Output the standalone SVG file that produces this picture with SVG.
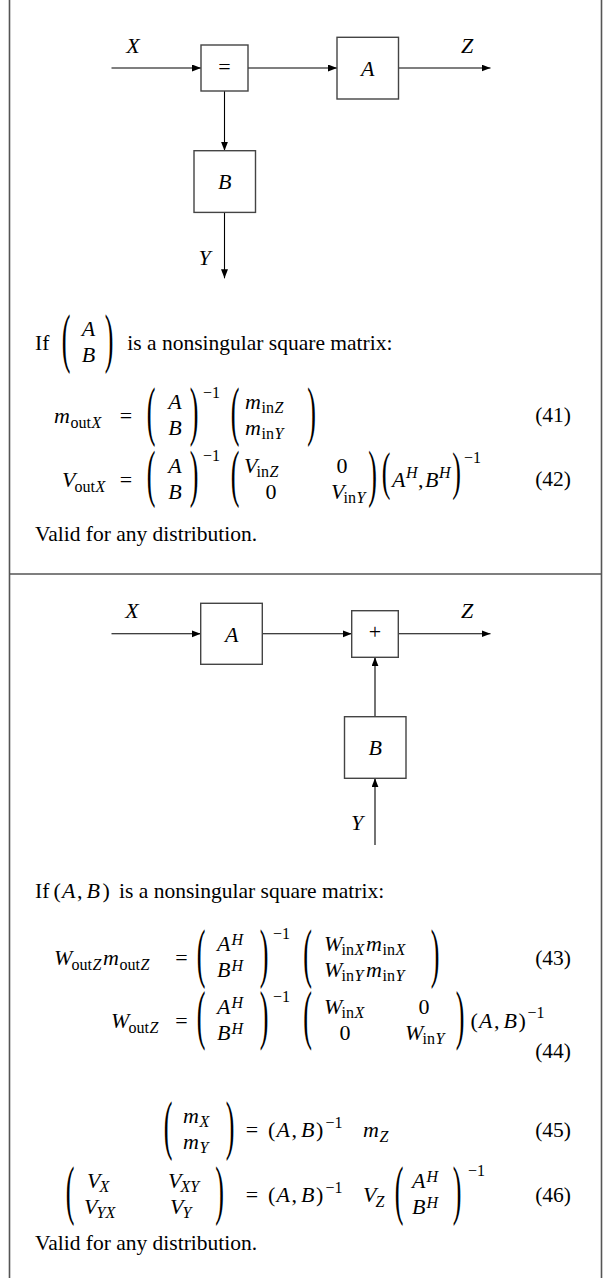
<svg xmlns="http://www.w3.org/2000/svg" width="607" height="1278" viewBox="0 0 607 1278">
<defs>
<style>
.f{font-family:"Liberation Serif","Times New Roman",serif;fill:#000}
.t{font-size:21.5px}
.r{font-size:22px;font-style:normal}
.i{font-size:22px;font-style:italic}
.si{font-size:16px;font-style:italic}
.sr{font-size:16px;font-style:normal}
.bp{font-size:26px;text-anchor:middle;font-style:normal}
.m{text-anchor:middle}
.e{text-anchor:end}
.box{fill:#fff;stroke:#444;stroke-width:1.4}
.wire{fill:none;stroke:#000;stroke-width:1.1}
.frame{fill:none;stroke:#555;stroke-width:1.6}
</style>
<marker id="ah" markerUnits="userSpaceOnUse" markerWidth="10" markerHeight="8" refX="9" refY="3.5" orient="auto"><path d="M0,0 L9,3.5 L0,7 z" fill="#000"/></marker>
</defs>
<rect width="607" height="1278" fill="#fff"/>
<g id="frame"><path class="frame" d="M9.5,0 V1278 M601.5,0 V1278 M9.5,574 H601.5"/></g>

<!-- Panel 1 diagram -->
<g id="connectors-1">
<path class="wire" marker-end="url(#ah)" d="M111.5,68 H201"/>
<path class="wire" marker-end="url(#ah)" d="M248,68 H337"/>
<path class="wire" marker-end="url(#ah)" d="M398.5,68 H490.5"/>
<path class="wire" marker-end="url(#ah)" d="M224.5,91 V150.7"/>
<path class="wire" marker-end="url(#ah)" d="M224.5,212.3 V278.3"/>
<text class="f i m" x="133" y="53">X</text>
<text class="f i m" x="467" y="53">Z</text>
<text class="f i m" x="204.5" y="265">Y</text>
</g>
<g id="node-equal"><rect class="box" x="201" y="45" width="47" height="46"/><text class="f r m" x="224.5" y="74.3">=</text></g>
<g id="node-A1"><rect class="box" x="337" y="37.3" width="61.5" height="61.7"/><text class="f i m" x="367.7" y="76">A</text></g>
<g id="node-B1"><rect class="box" x="194" y="150.7" width="61.5" height="61.7"/><text class="f i m" x="224.7" y="189">B</text></g>

<!-- Panel 1 text -->
<g id="text-1">
<text class="f t" x="35" y="350">If</text>
<text class="f bp" transform="translate(66,359.6) scale(1,2.48)">(</text>
<text class="f i m"><tspan x="88.5" y="335.5">A</tspan><tspan x="88.5" y="361.5">B</tspan></text>
<text class="f bp" transform="translate(109,359.6) scale(1,2.48)">)</text>
<text class="f t" x="127.3" y="350">is a nonsingular square matrix:</text>

<!-- eq 41 -->
<text class="f i" y="423"><tspan x="54">m</tspan><tspan class="sr" x="70.5" y="427.5">out</tspan><tspan class="si" x="91.5" y="427.5">X</tspan></text>
<text class="f r m" x="126" y="423">=</text>
<text class="f bp" transform="translate(151,432.6) scale(1,2.48)">(</text>
<text class="f i m"><tspan x="175" y="408.5">A</tspan><tspan x="175" y="434.5">B</tspan></text>
<text class="f bp" transform="translate(194,432.6) scale(1,2.48)">)</text>
<text class="f sr" x="203" y="398">−1</text>
<text class="f bp" transform="translate(235,432.6) scale(1,2.48)">(</text>
<text class="f i"><tspan x="245" y="408.5">m</tspan><tspan class="sr" x="261.5" y="412.5">in</tspan><tspan class="si" x="274.5" y="412.5">Z</tspan><tspan x="245" y="434.5">m</tspan><tspan class="sr" x="261.5" y="438.5">in</tspan><tspan class="si" x="274.5" y="438.5">Y</tspan></text>
<text class="f bp" transform="translate(311.5,432.6) scale(1,2.48)">)</text>
<text class="f t e" x="571" y="422">(41)</text>

<!-- eq 42 -->
<text class="f i" y="487"><tspan x="62">V</tspan><tspan class="sr" x="74.5" y="491.5">out</tspan><tspan class="si" x="95.5" y="491.5">X</tspan></text>
<text class="f r m" x="126" y="487">=</text>
<text class="f bp" transform="translate(151,464.2) scale(1,-2.432)">(</text>
<text class="f i m"><tspan x="175" y="472.5">A</tspan><tspan x="175" y="498.5">B</tspan></text>
<text class="f bp" transform="translate(194,464.2) scale(1,-2.432)">)</text>
<text class="f sr" x="203" y="461">−1</text>
<text class="f bp" transform="translate(235,464.2) scale(1,-2.432)">(</text>
<text class="f i"><tspan x="244" y="472.5">V</tspan><tspan class="sr" x="256.5" y="476.5">in</tspan><tspan class="si" x="269.5" y="476.5">Z</tspan><tspan class="r" x="336.5" y="472.5">0</tspan><tspan class="r" x="265.5" y="498.5">0</tspan><tspan x="331" y="498.5">V</tspan><tspan class="sr" x="343.5" y="502.5">in</tspan><tspan class="si" x="356.5" y="502.5">Y</tspan></text>
<text class="f bp" transform="translate(372.5,464.2) scale(1,-2.432)">)</text>
<text class="f bp" transform="translate(386,488.7) scale(1,2.03)">(</text>
<text class="f i" y="487"><tspan x="392">A</tspan><tspan class="si" x="406" y="478">H</tspan><tspan class="r" x="418" y="487">,</tspan><tspan x="425" y="487">B</tspan><tspan class="si" x="439" y="478">H</tspan></text>
<text class="f bp" transform="translate(456.5,488.7) scale(1,2.03)">)</text>
<text class="f sr" x="464" y="463">−1</text>
<text class="f t e" x="571" y="486">(42)</text>

<text class="f t" x="35" y="541">Valid for any distribution.</text>
</g>

<!-- Panel 2 diagram -->
<g id="connectors-2">
<path class="wire" marker-end="url(#ah)" d="M111.5,633.8 H200.7"/>
<path class="wire" marker-end="url(#ah)" d="M262.3,633.8 H351.7"/>
<path class="wire" marker-end="url(#ah)" d="M398.3,633.8 H490.5"/>
<path class="wire" marker-end="url(#ah)" d="M375,716.7 V657.3"/>
<path class="wire" marker-end="url(#ah)" d="M375,845 V778.3"/>
<text class="f i m" x="132" y="618">X</text>
<text class="f i m" x="467" y="618">Z</text>
<text class="f i m" x="357" y="830">Y</text>
</g>
<g id="node-A2"><rect class="box" x="200.7" y="603.3" width="61.6" height="61"/><text class="f i m" x="231.7" y="641.5">A</text></g>
<g id="node-plus"><rect class="box" x="351.7" y="610.7" width="46.6" height="46.6"/><text class="f r m" x="375" y="639.4">+</text></g>
<g id="node-B2"><rect class="box" x="344.5" y="716.7" width="61.5" height="61.6"/><text class="f i m" x="375.3" y="755">B</text></g>

<!-- Panel 2 text -->
<g id="text-2">
<text class="f t" x="35" y="898">If</text>
<text class="f i" y="898"><tspan class="r" x="53.5">(</tspan><tspan x="62">A</tspan><tspan class="r" x="77">,</tspan><tspan x="86.5">B</tspan><tspan class="r" x="102.5">)</tspan></text>
<text class="f t" x="119" y="898">is a nonsingular square matrix:</text>

<!-- eq 43 -->
<text class="f i" y="965"><tspan x="54">W</tspan><tspan class="sr" x="71.5" y="969.5">out</tspan><tspan class="si" x="92.5" y="969.5">Z</tspan><tspan x="103" y="965">m</tspan><tspan class="sr" x="119.5" y="969.5">out</tspan><tspan class="si" x="140.5" y="969.5">Z</tspan></text>
<text class="f r m" x="181.5" y="965">=</text>
<text class="f bp" transform="translate(201,974.6) scale(1,2.48)">(</text>
<text class="f i"><tspan x="217" y="950.5">A</tspan><tspan class="si" x="231.5" y="944.5">H</tspan><tspan x="217" y="976.5">B</tspan><tspan class="si" x="231.5" y="970.5">H</tspan></text>
<text class="f bp" transform="translate(264,974.6) scale(1,2.48)">)</text>
<text class="f sr" x="273" y="939">−1</text>
<text class="f bp" transform="translate(307.5,974.6) scale(1,2.48)">(</text>
<text class="f i"><tspan x="324" y="950.5">W</tspan><tspan class="sr" x="341.5" y="954.5">in</tspan><tspan class="si" x="354.5" y="954.5">X</tspan><tspan x="366" y="950.5">m</tspan><tspan class="sr" x="382.5" y="954.5">in</tspan><tspan class="si" x="395.5" y="954.5">X</tspan><tspan x="324" y="976.5">W</tspan><tspan class="sr" x="341.5" y="980.5">in</tspan><tspan class="si" x="354.5" y="980.5">Y</tspan><tspan x="366" y="976.5">m</tspan><tspan class="sr" x="382.5" y="980.5">in</tspan><tspan class="si" x="395.5" y="980.5">Y</tspan></text>
<text class="f bp" transform="translate(435,974.6) scale(1,2.48)">)</text>
<text class="f t e" x="571" y="965">(43)</text>

<!-- eq 44 -->
<text class="f i" y="1028"><tspan x="111">W</tspan><tspan class="sr" x="128.5" y="1032.5">out</tspan><tspan class="si" x="149.5" y="1032.5">Z</tspan></text>
<text class="f r m" x="181.5" y="1028">=</text>
<text class="f bp" transform="translate(201,1005.4) scale(1,-2.48)">(</text>
<text class="f i"><tspan x="217" y="1013.5">A</tspan><tspan class="si" x="231.5" y="1007.5">H</tspan><tspan x="217" y="1039.5">B</tspan><tspan class="si" x="231.5" y="1033.5">H</tspan></text>
<text class="f bp" transform="translate(264,1005.4) scale(1,-2.48)">)</text>
<text class="f sr" x="273" y="1002">−1</text>
<text class="f bp" transform="translate(307.5,1005.4) scale(1,-2.48)">(</text>
<text class="f i"><tspan x="324" y="1013.5">W</tspan><tspan class="sr" x="341.5" y="1017.5">in</tspan><tspan class="si" x="354.5" y="1017.5">X</tspan><tspan class="r" x="418.5" y="1013.5">0</tspan><tspan class="r" x="339.5" y="1039.5">0</tspan><tspan x="405" y="1039.5">W</tspan><tspan class="sr" x="422.5" y="1043.5">in</tspan><tspan class="si" x="435.5" y="1043.5">Y</tspan></text>
<text class="f bp" transform="translate(460,1005.4) scale(1,-2.48)">)</text>
<text class="f i" y="1028"><tspan class="r" x="470.5">(</tspan><tspan x="479">A</tspan><tspan class="r" x="494">,</tspan><tspan x="503.5">B</tspan><tspan class="r" x="518.5">)</tspan></text>
<text class="f sr" x="527.5" y="1018">−1</text>
<text class="f t e" x="571" y="1058">(44)</text>

<!-- eq 45 -->
<text class="f bp" transform="translate(168,1146.6) scale(1,2.48)">(</text>
<text class="f i"><tspan x="183" y="1122.5">m</tspan><tspan class="si" x="199.5" y="1126.5">X</tspan><tspan x="183" y="1148.5">m</tspan><tspan class="si" x="199.5" y="1152.5">Y</tspan></text>
<text class="f bp" transform="translate(230,1146.6) scale(1,2.48)">)</text>
<text class="f r m" x="252" y="1137">=</text>
<text class="f i" y="1137"><tspan class="r" x="268">(</tspan><tspan x="276.5">A</tspan><tspan class="r" x="291.5">,</tspan><tspan x="301">B</tspan><tspan class="r" x="316">)</tspan></text>
<text class="f sr" x="325.5" y="1128">−1</text>
<text class="f i" y="1137"><tspan x="363">m</tspan><tspan class="si" x="379.5" y="1141.5">Z</tspan></text>
<text class="f t e" x="571" y="1137">(45)</text>

<!-- eq 46 -->
<text class="f bp" transform="translate(70,1211.6) scale(1,2.48)">(</text>
<text class="f i"><tspan x="87" y="1187.5">V</tspan><tspan class="si" x="99.5" y="1191.5">X</tspan><tspan x="168" y="1187.5">V</tspan><tspan class="si" x="180.5" y="1191.5">XY</tspan><tspan x="84" y="1213.5">V</tspan><tspan class="si" x="96.5" y="1217.5">YX</tspan><tspan x="170" y="1213.5">V</tspan><tspan class="si" x="182.5" y="1217.5">Y</tspan></text>
<text class="f bp" transform="translate(219.5,1211.6) scale(1,2.48)">)</text>
<text class="f r m" x="252" y="1202">=</text>
<text class="f i" y="1202"><tspan class="r" x="268">(</tspan><tspan x="276.5">A</tspan><tspan class="r" x="291.5">,</tspan><tspan x="301">B</tspan><tspan class="r" x="316">)</tspan></text>
<text class="f sr" x="325.5" y="1193">−1</text>
<text class="f i" y="1202"><tspan x="363">V</tspan><tspan class="si" x="375.5" y="1206.5">Z</tspan></text>
<text class="f bp" transform="translate(399,1211.6) scale(1,2.48)">(</text>
<text class="f i"><tspan x="412" y="1187.5">A</tspan><tspan class="si" x="426.5" y="1181.5">H</tspan><tspan x="412" y="1213.5">B</tspan><tspan class="si" x="426.5" y="1207.5">H</tspan></text>
<text class="f bp" transform="translate(457,1211.6) scale(1,2.48)">)</text>
<text class="f sr" x="468" y="1176">−1</text>
<text class="f t e" x="571" y="1202">(46)</text>

<text class="f t" x="35" y="1250">Valid for any distribution.</text>
</g>
</svg>
